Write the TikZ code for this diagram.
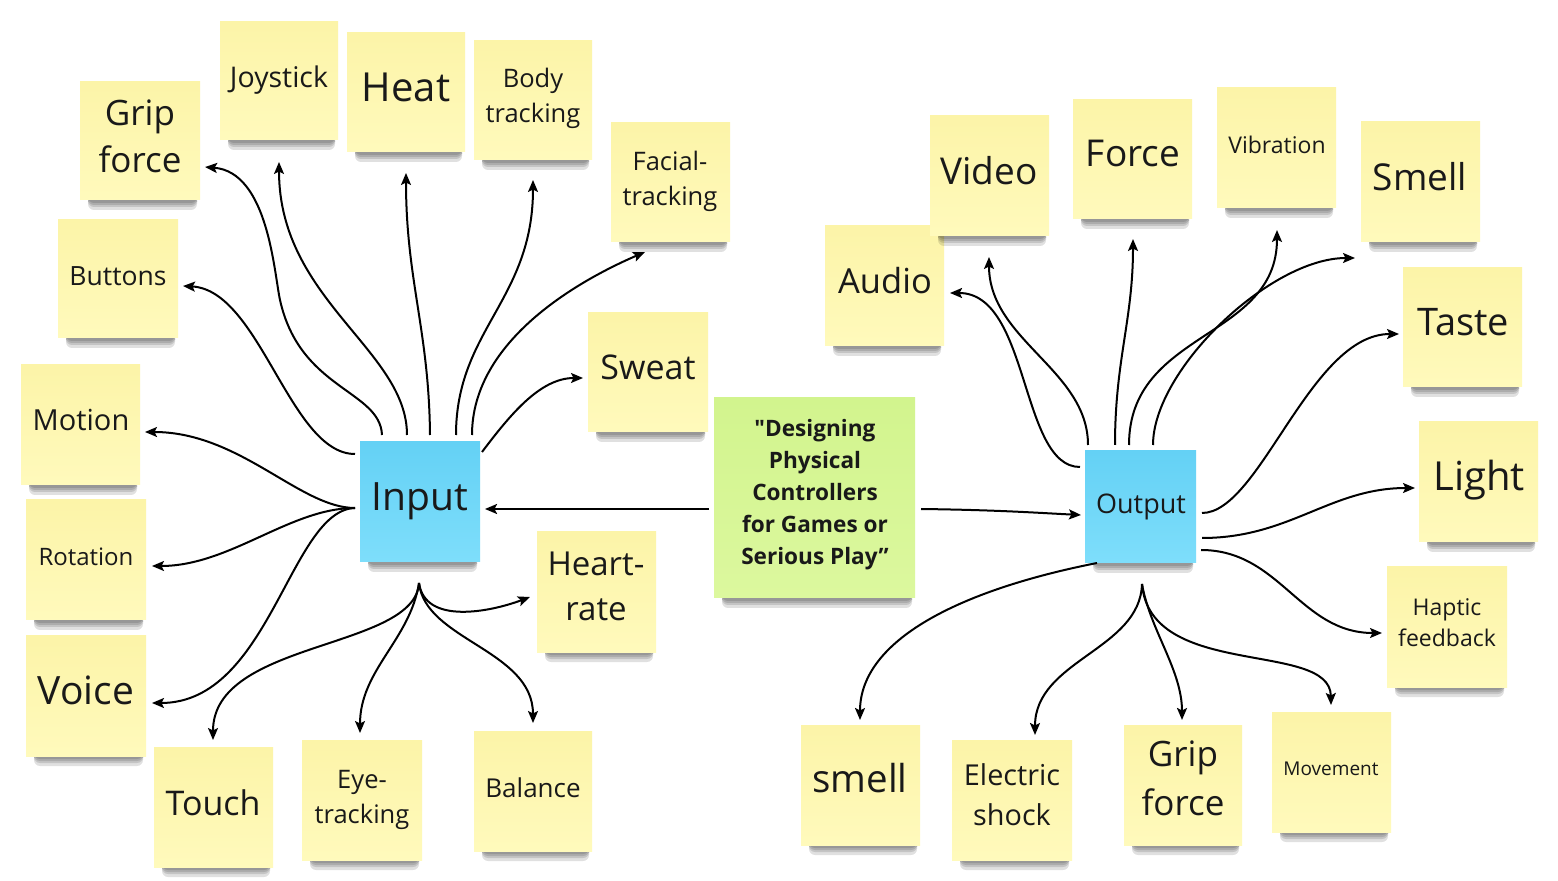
\documentclass[tikz,border=0pt]{standalone}
\usepackage{fontspec}
\setmainfont{Open Sans}
\usetikzlibrary{arrows.meta}
\definecolor{yTop}{RGB}{252,244,168}
\definecolor{yBot}{RGB}{255,250,188}
\definecolor{bTop}{RGB}{100,209,245}
\definecolor{bBot}{RGB}{126,222,251}
\definecolor{gTop}{RGB}{210,244,142}
\definecolor{gBot}{RGB}{220,248,158}
\definecolor{ink}{RGB}{25,25,25}
\tikzset{
  yellowsty/.style={top color=yTop, bottom color=yBot},
  bluesty/.style={top color=bTop, bottom color=bBot},
  greensty/.style={top color=gTop, bottom color=gBot},
  lbl/.style={align=center, inner sep=0pt, text=ink},
  arr/.style={draw=black, line width=1pt, -{Stealth[length=6pt,width=5pt,inset=1.2pt]}},
}
\newcommand\sticky[6]{%
  \foreach \k in {3,5,7,10}{\fill[black, opacity=0.12, rounded corners=3pt] (#2+8,#5-4) rectangle (#4-3,#5+\k);}
  \node[#6, inner sep=0pt, outer sep=0pt, minimum width={(#4-#2)*0.5}, minimum height={(#5-#3)*0.5}] (#1) at ({(#2+#4)/2},{(#3+#5)/2}) {};
}
\begin{document}
\begin{tikzpicture}[x=0.5pt, y=-0.5pt]
\fill[white] (0,0) rectangle (1558,881);
\useasboundingbox (0,0) rectangle (1558,881);

% stickies
\sticky{gripL}{80}{82}{200}{200}{yellowsty}
\sticky{joystick}{220}{22}{338}{140}{yellowsty}
\sticky{heat}{347}{33}{465}{152}{yellowsty}
\sticky{body}{474}{41}{592}{160}{yellowsty}
\sticky{facial}{611}{123}{730}{242}{yellowsty}
\sticky{buttons}{58}{220}{178}{338}{yellowsty}
\sticky{sweat}{588}{313}{708}{432}{yellowsty}
\sticky{motion}{21}{365}{140}{485}{yellowsty}
\sticky{input}{360}{442}{480}{562}{bluesty}
\sticky{rotation}{26}{500}{146}{620}{yellowsty}
\sticky{heart}{537}{532}{656}{652}{yellowsty}
\sticky{voice}{26}{636}{146}{756}{yellowsty}
\sticky{touch}{154}{747}{273}{867}{yellowsty}
\sticky{eye}{302}{740}{422}{860}{yellowsty}
\sticky{balance}{474}{731}{592}{851}{yellowsty}
\sticky{center}{714}{398}{915}{598}{greensty}
\sticky{audio}{825}{226}{944}{346}{yellowsty}
\sticky{video}{930}{116}{1049}{236}{yellowsty}
\sticky{force}{1073}{100}{1192}{219}{yellowsty}
\sticky{vibration}{1217}{88}{1336}{208}{yellowsty}
\sticky{smellU}{1361}{122}{1480}{242}{yellowsty}
\sticky{taste}{1403}{268}{1522}{387}{yellowsty}
\sticky{light}{1419}{422}{1538}{542}{yellowsty}
\sticky{haptic}{1387}{567}{1507}{687}{yellowsty}
\sticky{output}{1085}{451}{1196}{563}{bluesty}
\sticky{smellL}{801}{725}{920}{845}{yellowsty}
\sticky{electric}{952}{740}{1072}{860}{yellowsty}
\sticky{gripR}{1124}{725}{1242}{845}{yellowsty}
\sticky{movement}{1272}{712}{1391}{832}{yellowsty}

% texts
\node[lbl, font=\fontsize{17.5}{23.5}\selectfont] (tGripL) at (140,139.5) {\strut Grip\\\strut force};
\node[lbl, font=\fontsize{14.25}{19.5}\selectfont] (tJoy) at (279,80) {\strut Joystick};
\node[lbl, font=\fontsize{20}{27}\selectfont] (tHeat) at (406,91) {\strut Heat};
\node[lbl, font=\fontsize{12.75}{17.5}\selectfont] (tBody) at (533,98.5) {\strut Body\\\strut tracking};
\node[lbl, font=\fontsize{12.75}{17.5}\selectfont] (tFacial) at (670,181.5) {\strut Facial-\\\strut tracking};
\node[lbl, font=\fontsize{13.25}{18}\selectfont] (tButtons) at (118,278) {\strut Buttons};
\node[lbl, font=\fontsize{17}{23}\selectfont] (tSweat) at (648,370) {\strut Sweat};
\node[lbl, font=\fontsize{14.5}{20}\selectfont] (tMotion) at (81,423) {\strut Motion};
\node[lbl, font=\fontsize{19.5}{26.5}\selectfont] (tInput) at (420,500) {\strut Input};
\node[lbl, font=\fontsize{12}{16.5}\selectfont] (tRotation) at (86,559) {\strut Rotation};
\node[lbl, font=\fontsize{16.5}{22.5}\selectfont] (tHeart) at (596,589) {\strut Heart-\\\strut rate};
\node[lbl, font=\fontsize{19.5}{26.5}\selectfont] (tVoice) at (86,693.5) {\strut Voice};
\node[lbl, font=\fontsize{17}{23}\selectfont] (tTouch) at (213,806) {\strut Touch};
\node[lbl, font=\fontsize{12.75}{17.5}\selectfont] (tEye) at (362,798.5) {\strut Eye-\\\strut tracking};
\node[lbl, font=\fontsize{13}{18}\selectfont] (tBalance) at (533,790) {\strut Balance};
\node[lbl, font=\bfseries\fontsize{11.3}{16}\selectfont] (tCenter) at (815,494) {\strut {\addfontfeatures{Ligatures=TeXOff}"}Designing\\\strut Physical\\\strut Controllers\\\strut for Games or\\\strut Serious Play”};
\node[lbl, font=\fontsize{17.25}{23.5}\selectfont] (tAudio) at (885,284) {\strut Audio};
\node[lbl, font=\fontsize{18.5}{25}\selectfont] (tVideo) at (989,174.5) {\strut Video};
\node[lbl, font=\fontsize{18.5}{25}\selectfont] (tForce) at (1133,156.5) {\strut Force};
\node[lbl, font=\fontsize{11.5}{16}\selectfont] (tVib) at (1277,147) {\strut Vibration};
\node[lbl, font=\fontsize{18.5}{25}\selectfont] (tSmellU) at (1420,180.5) {\strut Smell};
\node[lbl, font=\fontsize{19}{26}\selectfont] (tTaste) at (1463,325.5) {\strut Taste};
\node[lbl, font=\fontsize{20}{27}\selectfont] (tLight) at (1479,479.5) {\strut Light};
\node[lbl, font=\fontsize{11.5}{15.5}\selectfont] (tHaptic) at (1447,624.5) {\strut Haptic\\\strut feedback};
\node[lbl, font=\fontsize{13.5}{18.5}\selectfont] (tOutput) at (1141,506) {\strut Output};
\node[lbl, font=\fontsize{19.25}{26}\selectfont] (tSmellL) at (860,782.5) {\strut smell};
\node[lbl, font=\fontsize{14.4}{20}\selectfont] (tElectric) at (1012,797) {\strut Electric\\\strut shock};
\node[lbl, font=\fontsize{17.5}{24.5}\selectfont] (tGripR) at (1183,781.5) {\strut Grip\\\strut force};
\node[lbl, font=\fontsize{9.5}{13}\selectfont] (tMove) at (1331,770.5) {\strut Movement};

% input connectors
\draw[arr] ([shift={(22,-7)}]input.north west) .. controls (380,390) and (300,390) .. (280,300) .. controls (274,272) and (268,172) .. ([shift={(5,26)}]gripL.east);
\draw[arr] ([shift={(47,-7)}]input.north west) .. controls (407,350) and (279,300) .. ([shift={(0,22)}]joystick.south);
\draw[arr] ([shift={(70,-7)}]input.north west) .. controls (429,330) and (406,280) .. ([shift={(0,21)}]heat.south);
\draw[arr] ([shift={(96,-7)}]input.north west) .. controls (456,330) and (533,300) .. ([shift={(0,20)}]body.south);
\draw[arr] ([shift={(112,-7)}]input.north west) .. controls (472,340) and (580,280) .. ([shift={(-25.5,10)}]facial.south);
\draw[arr] ([shift={(2,10)}]input.north east) .. controls (510,415) and (540,378) .. ([shift={(-5,5.5)}]sweat.west);
\draw[arr] ([shift={(-5,12)}]input.north west) .. controls (290,454) and (260,290) .. ([shift={(5,7)}]buttons.east);
\draw[arr] ([shift={(-5,6)}]input.west) .. controls (300,508) and (240,432) .. ([shift={(5,7)}]motion.east);
\draw[arr] ([shift={(-5,6)}]input.west) .. controls (290,508) and (230,566) .. ([shift={(6,6)}]rotation.east);
\draw[arr] ([shift={(-5,6)}]input.west) .. controls (290,510) and (270,703) .. ([shift={(6,7)}]voice.east);
\draw[arr] ([shift={(-5,11)}]center.west) -- ([shift={(5,7)}]input.east);
\draw[arr] ([shift={(-1,21)}]input.south) .. controls (425,625) and (490,612) .. ([shift={(-7,5)}]heart.west);
\draw[arr] ([shift={(-1,21)}]input.south) .. controls (415,650) and (213,640) .. ([shift={(-0.5,-7)}]touch.north);
\draw[arr] ([shift={(-1,21)}]input.south) .. controls (410,640) and (360,670) .. ([shift={(-2,-7)}]eye.north);
\draw[arr] ([shift={(-1,21)}]input.south) .. controls (425,640) and (533,650) .. ([shift={(0,-8)}]balance.north);

% output connectors
\draw[arr] ([shift={(6,11)}]center.east) .. controls (1000,510) and (1040,513) .. ([shift={(-4,8)}]output.west);
\draw[arr] ([shift={(-5,16)}]output.north west) .. controls (1020,467) and (1030,293) .. ([shift={(6,7)}]audio.east);
\draw[arr] ([shift={(3,-6)}]output.north west) .. controls (1088,370) and (989,340) .. ([shift={(-0.5,21)}]video.south);
\draw[arr] ([shift={(30,-6)}]output.north west) .. controls (1115,360) and (1133,320) .. ([shift={(0.5,20)}]force.south);
\draw[arr] ([shift={(44,-6)}]output.north west) .. controls (1129,330) and (1277,340) .. ([shift={(0.5,22)}]vibration.south);
\draw[arr] ([shift={(68,-6)}]output.north west) .. controls (1153,370) and (1270,258) .. ([shift={(-6,16)}]smellU.south west);
\draw[arr] ([shift={(6,6)}]output.east) .. controls (1260,513) and (1310,334) .. ([shift={(-4,6.5)}]taste.west);
\draw[arr] ([shift={(6,31)}]output.east) .. controls (1290,538) and (1330,488) .. ([shift={(-4,6)}]light.west);
\draw[arr] ([shift={(5,43)}]output.east) .. controls (1280,550) and (1300,633) .. ([shift={(-5,6)}]haptic.west);
\draw[arr] ([shift={(12,0)}]output.south west) .. controls (960,590) and (860,640) .. ([shift={(-0.5,-5)}]smellL.north);
\draw[arr] ([shift={(1.5,21)}]output.south) .. controls (1140,650) and (1035,660) .. ([shift={(23,-5)}]electric.north);
\draw[arr] ([shift={(1.5,21)}]output.south) .. controls (1150,630) and (1182,670) .. ([shift={(-1,-5)}]gripR.north);
\draw[arr] ([shift={(1.5,21)}]output.south) .. controls (1150,680) and (1330,640) .. ([shift={(-0.5,-7)}]movement.north);
\end{tikzpicture}
\end{document}
